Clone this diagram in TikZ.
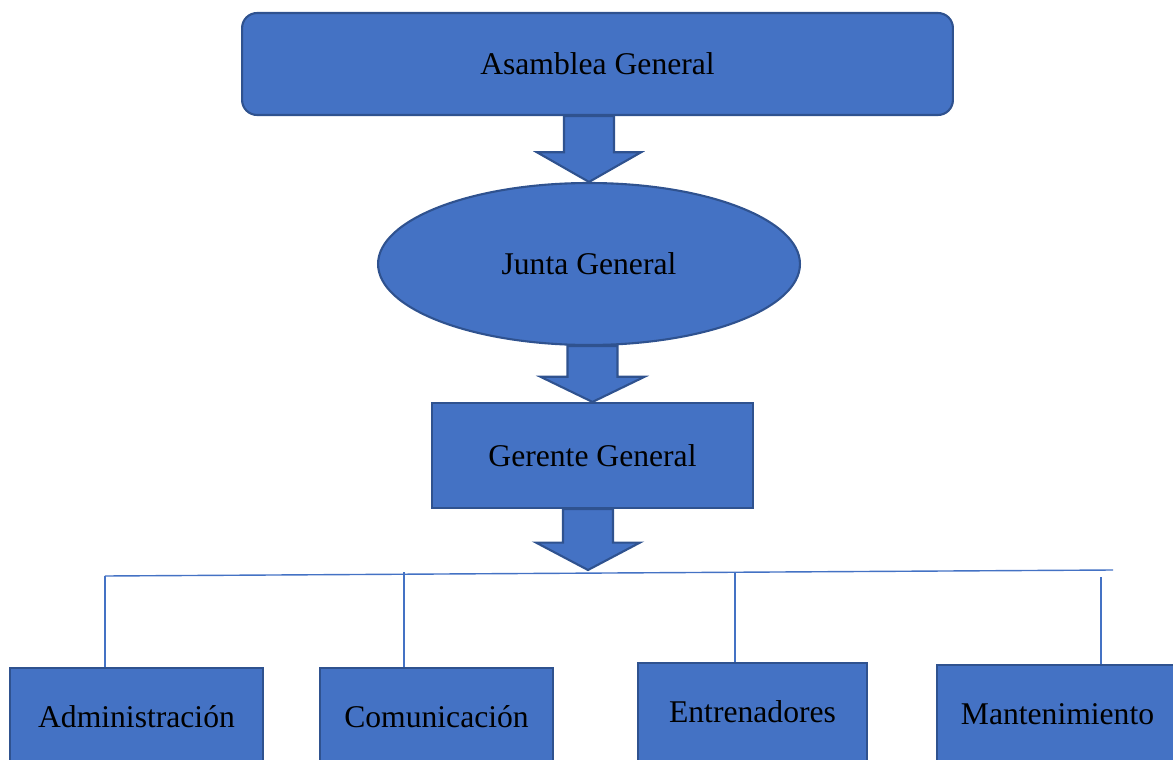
\documentclass[tikz,border=0pt]{standalone}
\usepackage{fontspec}
\setmainfont{Liberation Serif}
\usetikzlibrary{calc,shapes.geometric}
\definecolor{azulcaja}{HTML}{4472C4}
\definecolor{azulborde}{HTML}{2F528F}
\tikzset{
    %Define style for boxes
    caja/.style={
           rectangle,
           draw=azulborde,
           fill=azulcaja,
           line width=1.2pt,
           inner sep=0pt,
           font=\fontsize{18}{21}\selectfont},
    %Define style for the oval
    ovalo/.style={
           caja,
           ellipse},
    % Define block arrow style
    flecha/.style={
           draw=azulborde,
           fill=azulcaja,
           line width=1.2pt,
           line join=miter},
    % Define connector style
    linea/.style={
           draw=azulcaja,
           line width=0.8pt}
}
% block arrow from a node down to a point
\newcommand{\flechabloque}[2]{%
  \coordinate (fa) at (#1.south -| #2);
  \coordinate (fb) at ($(fa)!0.55!(#2)$);
  \draw[flecha] ($(fa)+(-25,0)$) -- ($(fa)+(25,0)$) -- ($(fb)+(25,0)$)
    -- ($(fb)+(52,0)$) -- (#2) -- ($(fb)+(-52,0)$) -- ($(fb)+(-25,0)$) -- cycle;}

\begin{document}
\begin{tikzpicture}[x=0.02cm,y=-0.02cm]
  \useasboundingbox (0,0) rectangle (1173,760);
  \clip (0,0) rectangle (1173,760);
  \node[caja,rounded corners=0.3cm,minimum width=14.22cm,minimum height=2.04cm] (asamblea) at (597.5,64) {Asamblea General};
  \node[ovalo,minimum width=8.44cm,minimum height=3.24cm] (junta) at (589,264) {Junta General};
  \node[caja,minimum width=6.42cm,minimum height=2.1cm] (gerente) at (592.5,455.5) {Gerente General};
  % departamentos
  \node[caja,minimum width=5.06cm,minimum height=1.96cm] (admin) at (136.5,717) {Administración};
  \node[caja,minimum width=4.66cm,minimum height=1.96cm] (comunica) at (436.5,717) {Comunicación};
  \node[caja,minimum width=4.58cm,minimum height=1.96cm] (entrena) at (752.5,712) {Entrenadores};
  \node[caja,minimum width=5.2cm,minimum height=1.96cm] (manten) at (1067,714) {\hspace*{-0.38cm}Mantenimiento};
  % block arrows
  \coordinate (punta) at (588,570);
  \flechabloque{asamblea}{junta.north}
  \flechabloque{junta}{gerente.north}
  \flechabloque{gerente}{punta}
  % connector lines
  \coordinate (barraizq) at (105,576);
  \coordinate (barrader) at (1113,570);
  \coordinate (c2) at (404,572);
  \coordinate (c3) at (735,572);
  \coordinate (c4) at (1101,577);
  \draw[linea] (barraizq) -- (barrader);
  \draw[linea] (barraizq) -- (barraizq |- admin.north);
  \draw[linea] (c2) -- (c2 |- comunica.north);
  \draw[linea] (c3) -- (c3 |- entrena.north);
  \draw[linea] (c4) -- (c4 |- manten.north);
\end{tikzpicture}
\end{document}
